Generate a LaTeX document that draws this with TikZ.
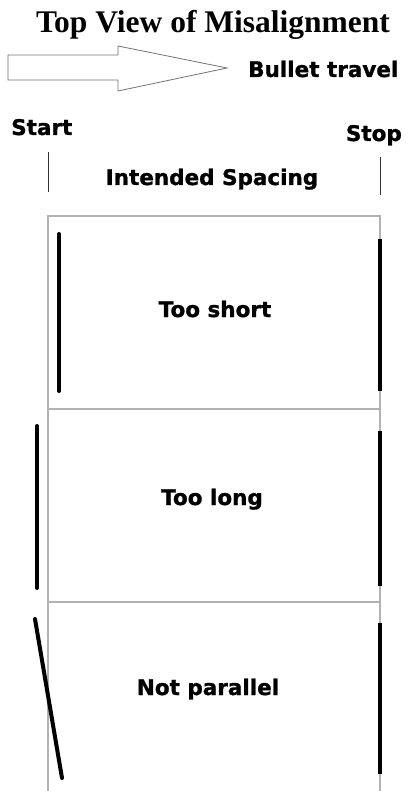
\documentclass[tikz,border=0pt]{standalone}
\usepackage{fontspec}
\setmainfont{Liberation Serif}
\newfontfamily\labelfont{DejaVu Sans}[BoldFeatures={FakeBold=1.2}]
\usetikzlibrary{positioning}

\begin{document}
\begin{tikzpicture}[
    x=1pt, y=-1pt,
    lbl/.style={font=\labelfont\bfseries\fontsize{21.5}{25}\selectfont, inner sep=0pt, anchor=base},
    frame/.style={draw=black!30, line width=1.2pt},
    guide/.style={draw=black!80, line width=0.9pt},
    bar/.style={line width=4pt, line cap=round},
    barR/.style={line width=4pt, line cap=butt}
]
\useasboundingbox[fill=white] (0,0) rectangle (408,791);

% title and direction arrow
\node[font=\bfseries\fontsize{31.5}{35}\selectfont, inner sep=0pt, anchor=base] (title) at (213,33) {Top View of Misalignment};
\draw[draw=black!55, line width=0.8pt] (8,55) -- (118,55) -- (118,46) -- (227,68)
    -- (118,91) -- (118,80) -- (8,80) -- cycle;
\node[lbl, anchor=base west] (travel) at (248,77) {Bullet travel};

% start and stop markers
\node[lbl, anchor=base west] (start) at (11,135) {Start};
\node[lbl, anchor=base east] (stop) at (402,141) {Stop};
\draw[guide] (48,152) -- (48,192);
\draw[guide] (380,157) -- (380,195);
\node[lbl] (intended) at (212,185) {Intended Spacing};

% frame of the three cases
\draw[frame] (48,791) -- (48,216) -- (380,216) -- (380,791);
\draw[frame] (48,409) -- (380,409);
\draw[frame] (48,602) -- (380,602);

% too short
\draw[bar] (59,234) -- (59,391);
\draw[barR] (380,239) -- (380,391);
\node[lbl] (short) at (215,317) {Too short};

% too long
\draw[bar] (37,426) -- (37,588);
\draw[barR] (380,431) -- (380,586);
\node[lbl] (long) at (212,505) {Too long};

% not parallel
\draw[bar] (35,619) -- (62,778);
\draw[barR] (380,623) -- (380,774);
\node[lbl] (notpar) at (208,695) {Not parallel};
\end{tikzpicture}
\end{document}
